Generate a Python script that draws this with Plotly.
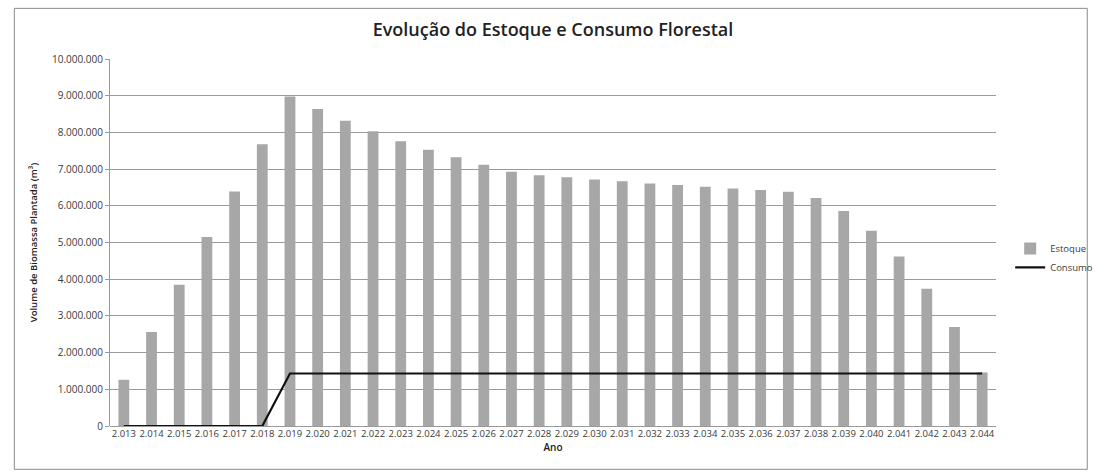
import plotly.graph_objects as go

anos = ["2.013", "2.014", "2.015", "2.016", "2.017", "2.018", "2.019", "2.020",
        "2.021", "2.022", "2.023", "2.024", "2.025", "2.026", "2.027", "2.028",
        "2.029", "2.030", "2.031", "2.032", "2.033", "2.034", "2.035", "2.036",
        "2.037", "2.038", "2.039", "2.040", "2.041", "2.042", "2.043", "2.044"]

estoque = [1260000, 2560000, 3850000, 5150000, 6390000, 7680000, 8980000, 8640000,
           8320000, 8030000, 7760000, 7530000, 7320000, 7120000, 6930000, 6830000,
           6780000, 6720000, 6670000, 6610000, 6570000, 6520000, 6470000, 6430000,
           6380000, 6210000, 5860000, 5320000, 4620000, 3740000, 2700000, 1460000]

consumo = [0, 0, 0, 0, 0, 0, 1430000, 1430000,
           1430000, 1430000, 1430000, 1430000, 1430000, 1430000, 1430000, 1430000,
           1430000, 1430000, 1430000, 1430000, 1430000, 1430000, 1430000, 1430000,
           1430000, 1430000, 1430000, 1430000, 1430000, 1430000, 1430000, 1430000]

y_ticks = [0, 1000000, 2000000, 3000000, 4000000, 5000000, 6000000, 7000000,
           8000000, 9000000, 10000000]

FONT = "Open Sans, Liberation Sans, sans-serif"
TXT = "#3a3a3a"

fig = go.Figure()
fig.add_trace(go.Bar(x=anos, y=estoque, name="Estoque", marker_color="#a7a7a7",
                     marker_line_width=0))
fig.add_trace(go.Scatter(x=anos, y=consumo, name="Consumo", mode="lines",
                         line=dict(color="#111111", width=2.2)))

fig.update_layout(
    width=1110, height=475,
    margin=dict(l=110, r=100, t=59, b=49),
    paper_bgcolor="white", plot_bgcolor="white",
    separators=",.",
    bargap=0.61,
    title=dict(text="Evolução do Estoque e Consumo Florestal", x=0.5, xanchor="center",
               xref="paper", y=0.937, yanchor="middle",
               font=dict(family=FONT, size=18, color="#222222", weight=600)),
    font=dict(family=FONT, size=9, color=TXT),
    showlegend=True,
    legend=dict(x=1.016, y=0.458, xanchor="left", yanchor="middle",
                font=dict(size=9.5, color=TXT), bgcolor="rgba(0,0,0,0)",
                tracegroupgap=6, itemwidth=30),
    shapes=[dict(type="rect", xref="paper", yref="paper", x0=-0.108, x1=1.103,
                 y0=-0.118, y1=1.138, line=dict(color="#8a8a8a", width=1),
                 layer="below")],
)

fig.update_xaxes(type="category", showgrid=False, showline=False, ticks="",
                 tickangle=0, tickfont=dict(size=9.5, color=TXT),
                 title=dict(text="Ano", font=dict(size=10, color="#222222", weight=600),
                            standoff=5))
fig.update_yaxes(range=[0, 10000000], tickvals=y_ticks, tickformat=",d",
                 showgrid=True, gridcolor="#9a9a9a", gridwidth=1,
                 showline=True, linecolor="#9a9a9a", linewidth=1,
                 zeroline=True, zerolinecolor="#9a9a9a", zerolinewidth=1,
                 ticks="outside", ticklen=4, tickcolor="#9a9a9a",
                 tickfont=dict(size=10, color=TXT),
                 title=dict(text="Volume de Biomassa Plantada (m³)",
                            font=dict(size=9.5, color="#222222", weight=600), standoff=12))

fig.write_html("out.html")
